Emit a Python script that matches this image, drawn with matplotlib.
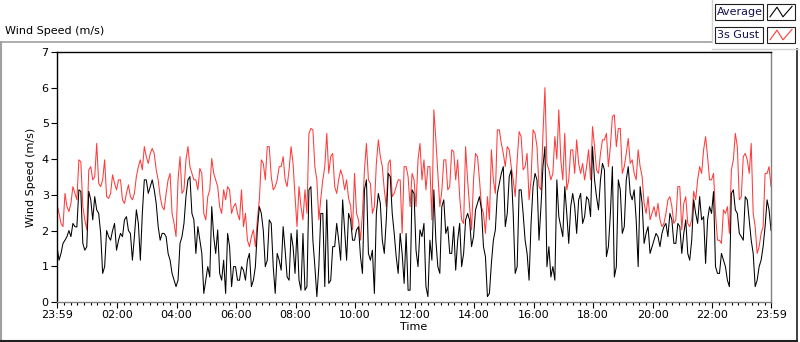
import numpy as np
import matplotlib.pyplot as plt
from matplotlib.lines import Line2D
from matplotlib.patches import Rectangle

# readings every 8 minutes from 23:59, and the readings 4 minutes after each
t_a = np.arange(-1, 1440, 8)
t_b = np.arange(3, 1440, 8)

gust_a = [2.72, 2.2, 3.04, 2.53, 3.23, 2.86, 3.93, 2.3, 3.7, 3.42,
          4.44, 3.23, 3.98, 2.9, 3.56, 3.14, 3.42, 2.76, 3.28, 2.86,
          3.51, 3.98, 4.35, 3.88, 4.3, 3.7, 2.95, 2.58, 3.42, 2.48,
          1.83, 4.07, 3.14, 4.35, 3.6, 3.42, 3.74, 2.48, 2.95, 4.02,
          3.42, 2.67, 3.14, 3.23, 2.48, 2.76, 2.3, 2.11, 1.73, 1.83,
          1.55, 2.86, 3.88, 4.35, 3.51, 3.23, 3.79, 4.07, 3.23, 4.35,
          2.95, 3.23, 2.3, 2.48, 4.86, 3.79, 2.3, 3.42, 4.72, 4.07,
          3.23, 3.42, 3.51, 3.42, 2.7, 3.6, 2.3, 2.48, 4.44, 3.32,
          2.67, 4.54, 3.79, 2.67, 3.98, 3.04, 3.42, 1.92, 3.79, 2.67,
          3.42, 3.98, 3.42, 3.14, 3.79, 5.38, 3.6, 3.1, 3.98, 3.23,
          4.21, 3.98, 2.3, 4.35, 2.67, 3.42, 4.07, 2.67, 1.92, 2.3,
          3.42, 4.82, 4.44, 3.79, 4.26, 3.42, 3.98, 4.63, 3.79, 2.86,
          4.82, 4.35, 3.14, 6.0, 3.7, 3.6, 4.0, 3.98, 4.72, 3.42,
          4.26, 4.54, 3.6, 3.42, 4.26, 4.91, 3.7, 4.16, 4.54, 3.79,
          5.19, 4.35, 4.86, 3.79, 4.58, 3.98, 3.42, 3.79, 2.76, 2.95,
          2.48, 2.39, 2.3, 2.2, 2.86, 2.67, 2.3, 3.23, 2.76, 2.2,
          2.3, 2.86, 3.79, 4.26, 4.07, 3.42, 2.48, 1.73, 2.58, 2.67,
          3.7, 4.72, 2.86, 4.07, 3.98, 4.44, 2.11, 1.55, 2.11, 3.6,
          3.23]

gust_b = [2.48, 2.11, 2.67, 2.76, 3.04, 3.98, 2.67, 2.02, 3.79, 3.51,
          3.32, 3.42, 2.95, 3.04, 3.32, 3.42, 2.86, 3.04, 2.95, 3.04,
          3.79, 3.7, 4.07, 4.16, 4.16, 3.42, 2.67, 3.04, 3.6, 2.2,
          3.42, 3.04, 3.98, 3.79, 3.42, 3.14, 3.6, 2.3, 3.14, 3.6,
          3.23, 2.48, 2.86, 3.14, 2.67, 2.48, 3.14, 2.48, 1.55, 2.02,
          2.3, 3.98, 3.42, 4.35, 3.14, 3.42, 3.79, 3.42, 3.7, 3.88,
          2.11, 2.67, 3.14, 4.72, 4.82, 3.42, 2.9, 3.79, 3.6, 4.16,
          3.04, 3.7, 3.14, 2.9, 2.02, 2.48, 1.73, 3.7, 3.42, 2.48,
          3.88, 4.07, 3.14, 3.88, 2.95, 3.23, 3.42, 3.79, 3.51, 3.6,
          2.67, 4.44, 3.98, 3.79, 2.3, 4.54, 2.67, 3.98, 3.14, 4.26,
          3.42, 2.95, 2.2, 3.42, 2.02, 4.16, 3.42, 2.48, 2.95, 4.26,
          3.04, 4.82, 4.16, 4.35, 3.79, 2.95, 4.77, 3.7, 4.16, 3.42,
          4.72, 3.23, 4.7, 3.88, 3.42, 4.63, 5.38, 3.42, 3.14, 4.26,
          3.6, 3.88, 3.88, 3.79, 3.42, 4.35, 3.6, 4.54, 4.72, 4.35,
          5.24, 4.86, 3.6, 4.16, 3.88, 3.6, 4.26, 3.51, 2.48, 2.3,
          2.67, 2.76, 2.11, 2.48, 2.95, 2.2, 3.23, 2.02, 2.95, 2.11,
          3.1, 3.42, 3.6, 4.63, 3.42, 3.6, 1.73, 1.64, 2.48, 1.92,
          3.98, 4.35, 2.95, 4.16, 3.6, 2.48, 1.36, 1.92, 3.6, 3.79]

average_a = [1.55, 1.36, 1.73, 2.0, 2.2, 2.1, 3.1, 1.45, 3.1, 2.3,
             2.58, 1.92, 0.99, 1.83, 2.0, 1.45, 1.92, 2.3, 2.0, 1.17,
             2.58, 1.17, 3.42, 3.04, 3.42, 2.76, 1.73, 1.92, 1.36, 0.8,
             0.43, 1.64, 2.2, 3.42, 2.48, 1.36, 1.73, 0.24, 0.99, 2.67,
             1.36, 0.8, 1.17, 1.92, 0.43, 0.99, 0.61, 0.89, 1.17, 0.43,
             0.99, 2.67, 2.0, 1.17, 2.2, 0.24, 1.17, 2.11, 0.7, 1.92,
             0.8, 0.61, 1.92, 0.43, 3.23, 0.99, 0.99, 2.48, 2.86, 0.61,
             1.55, 1.73, 2.86, 1.17, 2.3, 1.73, 2.11, 0.8, 3.42, 1.17,
             0.24, 3.04, 1.73, 2.3, 3.51, 1.92, 0.8, 1.36, 1.92, 0.33,
             3.04, 0.99, 1.83, 0.43, 1.73, 3.14, 0.99, 2.67, 1.92, 1.36,
             2.11, 1.73, 0.99, 2.3, 2.3, 1.83, 2.76, 2.58, 1.27, 0.24,
             1.73, 3.04, 3.6, 2.11, 3.51, 2.48, 0.99, 3.14, 1.73, 0.61,
             3.23, 3.42, 2.67, 4.35, 1.55, 0.99, 3.42, 2.11, 3.23, 1.64,
             3.04, 1.92, 3.04, 2.39, 2.86, 4.35, 2.95, 3.42, 3.7, 1.55,
             3.79, 0.99, 3.14, 2.11, 3.79, 2.86, 2.3, 3.23, 1.64, 2.11,
             1.55, 1.92, 1.55, 2.11, 1.83, 2.3, 1.64, 2.11, 1.92, 1.36,
             1.73, 2.48, 2.95, 2.39, 2.3, 2.48, 0.99, 0.8, 1.17, 0.61,
             3.04, 2.58, 1.92, 1.73, 2.86, 1.73, 0.43, 0.99, 1.55, 2.86,
             2.0]

average_b = [1.17, 1.64, 1.83, 1.83, 2.11, 3.14, 1.64, 1.55, 2.86, 2.95,
             2.48, 0.8, 2.0, 1.73, 2.2, 1.73, 1.83, 2.39, 1.92, 1.83,
             2.2, 2.48, 3.42, 3.23, 3.14, 2.11, 1.92, 1.83, 1.17, 0.61,
             0.61, 1.83, 2.95, 3.51, 2.3, 2.11, 1.36, 0.61, 0.7, 1.83,
             2.02, 0.61, 0.24, 1.55, 0.99, 0.61, 0.99, 0.61, 1.36, 0.61,
             2.02, 2.48, 0.99, 2.3, 0.99, 1.36, 0.89, 1.45, 0.61, 1.55,
             2.02, 0.33, 0.33, 3.14, 1.73, 0.15, 2.48, 0.43, 0.52, 1.55,
             2.2, 1.17, 2.02, 2.48, 1.73, 2.02, 1.27, 3.14, 1.36, 1.45,
             2.48, 2.76, 1.36, 3.6, 2.48, 1.27, 1.92, 0.52, 0.33, 3.14,
             1.45, 2.02, 2.2, 0.15, 1.17, 1.73, 0.8, 2.86, 2.11, 1.36,
             0.89, 2.2, 1.36, 2.48, 1.55, 2.58, 2.95, 1.55, 0.15, 1.08,
             2.02, 3.32, 3.79, 2.48, 3.7, 0.8, 3.14, 2.48, 1.36, 2.2,
             3.6, 1.73, 3.79, 0.99, 0.7, 0.61, 2.39, 1.83, 2.48, 2.67,
             2.67, 2.86, 2.2, 2.95, 2.39, 3.42, 2.58, 3.88, 1.27, 2.48,
             0.7, 3.42, 1.92, 3.42, 3.04, 3.14, 0.99, 2.76, 1.92, 1.36,
             1.73, 1.83, 1.92, 2.2, 2.48, 1.64, 2.2, 1.36, 2.3, 1.17,
             2.86, 2.2, 2.3, 1.08, 2.67, 3.09, 0.8, 1.36, 0.99, 0.43,
             3.14, 2.48, 1.83, 2.95, 2.3, 1.36, 0.61, 1.17, 2.11, 2.58]

major_ticks = [-1, 120, 240, 360, 480, 600, 720, 840, 960, 1080, 1200, 1320, 1439]
major_labels = ['23:59', '02:00', '04:00', '06:00', '08:00', '10:00', '12:00',
                '14:00', '16:00', '18:00', '20:00', '22:00', '23:59']

# merge both sets of readings into one time-ordered series
t = np.concatenate([t_a, t_b])
order = np.argsort(t)
t = t[order]
gust = np.concatenate([gust_a, gust_b])[order]
average = np.concatenate([average_a, average_b])[order]

fig = plt.figure(figsize=(8, 3.42), dpi=100)
ax = fig.add_axes([0.0713, 0.117, 0.8925, 0.731])

ax.plot(t, gust, color='#ff3b3b', linewidth=0.75)
ax.plot(t, average, color='black', linewidth=0.75)

ax.set_xlim(-1, 1439)
ax.set_ylim(0, 7)
ax.set_yticks(range(0, 8))
ax.set_xticks(major_ticks)
ax.set_xticklabels(major_labels)
minor = [m for m in np.arange(0, 1440, 40 / 3) if abs(m / 120 - round(m / 120)) > 0.01]
ax.set_xticks(minor, minor=True)
ax.tick_params(axis='both', which='major', labelsize=8, length=4, width=0.8, pad=2)
ax.tick_params(axis='x', which='minor', length=2.5, width=0.8)

for s in ['top', 'left']:
    ax.spines[s].set_color('black')
for s in ['bottom', 'right']:
    ax.spines[s].set_color('#808080')
for s in ax.spines.values():
    s.set_linewidth(1.0)

ax.set_ylabel('Wind Speed (m/s)', fontsize=8, labelpad=4)
ax.set_xlabel('Time', fontsize=8, labelpad=1)

# outer frame and title
fig.text(5 / 800, 1 - 31 / 342, 'Wind Speed (m/s)', fontsize=8, va='center', ha='left')
gray = '#a0a0a0'
fig.add_artist(Line2D([0.5 / 800, 712 / 800], [1 - 42 / 342] * 2, color=gray, lw=1.2))
fig.add_artist(Line2D([0.8 / 800] * 2, [1 - 42 / 342, 0], color=gray, lw=1.5))
fig.add_artist(Line2D([0, 797 / 800], [1 / 342] * 2, color='#202020', lw=1.5))
fig.add_artist(Line2D([797 / 800] * 2, [0, 1 - 49 / 342], color='#202020', lw=1.2))
fig.add_artist(Line2D([712 / 800] * 2, [1 - 42 / 342, 1], color='#d0d0d0', lw=1))
fig.add_artist(Line2D([712 / 800, 798 / 800], [1 - 49 / 342] * 2, color='#d0d0d0', lw=1))

# legend built by hand in LabVIEW style
rows = [('Average', 'black', 4), ('3s Gust', '#ff3b3b', 27)]
for name, col, top in rows:
    y0 = 1 - (top + 16) / 342
    h = 16 / 342
    fig.add_artist(Rectangle((715 / 800, y0), 48 / 800, h, fill=False, ec='#202020', lw=0.8))
    fig.text(717 / 800, y0 + h / 2, name, fontsize=8, color='#101050', va='center', ha='left')
    fig.add_artist(Rectangle((767 / 800, y0), 28 / 800, h, fill=False, ec='#202020', lw=0.8))
    xs = np.array([770, 777, 783, 792]) / 800
    ys = y0 + np.array([0.2, 0.8, 0.2, 0.85]) * h
    fig.add_artist(Line2D(xs, ys, color=col, lw=0.8))

fig.savefig('out.png', dpi=100)
